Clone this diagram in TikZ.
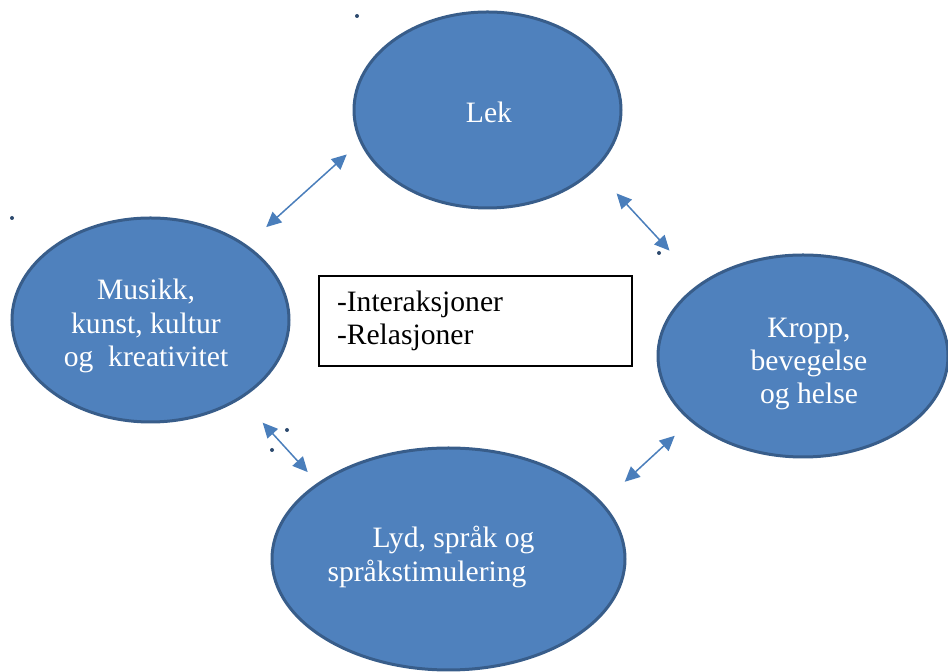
\documentclass[tikz,border=0pt]{standalone}
\usepackage{fontspec}
\setmainfont{Liberation Serif}
\usetikzlibrary{arrows.meta,shapes.geometric}
\definecolor{bubblefill}{HTML}{4F81BD}
\definecolor{bubbleline}{HTML}{385D8A}
\definecolor{linkblue}{HTML}{4A7EBB}

\begin{document}
\begin{tikzpicture}[x=0.5pt, y=-0.5pt,
    bubble/.style={ellipse, draw=bubbleline, fill=bubblefill, line width=1.5pt, inner sep=0pt, outer sep=0pt},
    bubbletext/.style={text=white, align=center, inner sep=0pt, font=\fontsize{14.8}{16.6}\selectfont},
    link/.style={linkblue, line width=0.75pt, {Triangle[length=7.5pt,width=7pt]}-{Triangle[length=7.5pt,width=7pt]}},
    speck/.style={fill=bubbleline!80!black}]
    \useasboundingbox (0,0) rectangle (948,672);
    \node[bubble, minimum width=133.5pt, minimum height=98pt] (lek) at (487.5,110) {};
    \node[bubble, minimum width=138.5pt, minimum height=102pt] (musikk) at (150.5,320) {};
    \node[bubble, minimum width=145pt, minimum height=101pt] (kropp) at (803,356) {};
    \node[bubble, minimum width=176.5pt, minimum height=111pt] (lyd) at (448.5,559) {};
    \node[bubbletext] (lektext) at (489,112) {Lek};
    \node[bubbletext] (musikktext) at (146,326) {Musikk,\\kunst, kultur\\og\ \ kreativitet};
    \node[bubbletext] (kropptext) at (809,364) {Kropp,\\bevegelse\\og helse};
    \node[bubbletext, align=left] (lydtext) at (431,557) {\hspace*{22.5pt}Lyd, språk og\\språkstimulering};
    \node[draw, line width=0.6pt, minimum width=156.5pt, minimum height=45pt, text width=138.5pt,
        inner xsep=9pt, align=left, font=\fontsize{14.8}{16.6}\selectfont] (kjerne) at (475.5,321)
        {-Interaksjoner\\-Relasjoner};
    % piler mellom omraadene
    \draw[link, shorten <=13.95pt, shorten >=9.65pt] (musikk.38) -- (lek.194);
    \draw[link, shorten <=16.6pt, shorten >=23pt] (lek.331) -- (kropp.145);
    \draw[link, shorten <=16.8pt, shorten >=8pt] (musikk.319) -- (lyd.150);
    \draw[link, shorten <=15.95pt, shorten >=11.3pt] (lyd.20) -- (kropp.210);
    % smaa prikker
    \fill[speck] (357,16) circle (1pt);
    \fill[speck] (12,218) circle (1pt);
    \fill[speck] (659,253) circle (1pt);
    \fill[speck] (287,430) circle (1pt);
    \fill[speck] (272,450) circle (1pt);
\end{tikzpicture}
\end{document}
